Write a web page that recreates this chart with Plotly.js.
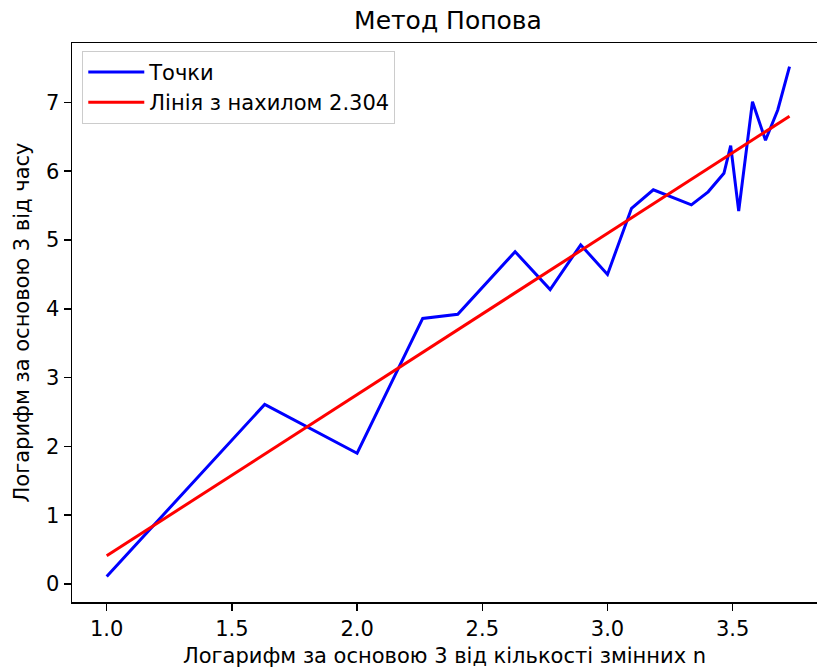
<!DOCTYPE html>
<html>
<head>
<meta charset="utf-8">
<script src="https://cdn.plot.ly/plotly-3.0.1.min.js"></script>
<style>html,body{margin:0;padding:0;background:#fff}#chart{width:817px;height:671px}</style>
</head>
<body>
<div id="chart"></div>
<script>
// log3(n) of the number of variables
var xLog = [1.000, 1.631, 2.000, 2.262, 2.402, 2.631, 2.771, 2.893, 3.000, 3.096,
            3.183, 3.335, 3.402, 3.465, 3.492, 3.524, 3.579, 3.631, 3.680, 3.727];
// log3 of time
var yLog = [0.11, 2.61, 1.90, 3.86, 3.92, 4.83, 4.28, 4.93, 4.50, 5.46,
            5.73, 5.51, 5.70, 5.97, 6.37, 5.42, 7.01, 6.45, 6.89, 7.52];
// fitted line endpoints
var fitX = [1.000, 3.727];
var fitY = [0.41, 6.80];
var seriesName = "Точки";
var fitName = "Лінія з нахилом 2.304";
var titleText = "Метод Попова";
var xTitle = "Логарифм за основою 3 від кількості змінних n";
var yTitle = "Логарифм за основою 3 від часу";

var font = "DejaVu Sans, sans-serif";
var fs = 21;
var traces = [
  {x: xLog, y: yLog, mode: "lines", name: seriesName, line: {color: "#0000ff", width: 3}},
  {x: fitX, y: fitY, mode: "lines", name: fitName, line: {color: "#ff0000", width: 3}}
];
var layout = {
  width: 817, height: 671,
  margin: {l: 72, r: 0, t: 43, b: 69, pad: 0},
  paper_bgcolor: "#fff", plot_bgcolor: "#fff",
  font: {family: font, size: fs, color: "#000"},
  title: {text: titleText, font: {family: font, size: 25, color: "#000"},
          xref: "container", x: 448/817, xanchor: "center",
          yref: "container", y: 1 - 20/671, yanchor: "middle"},
  xaxis: {range: [0.8614, 3.8367], tick0: 1, dtick: 0.5, tickformat: ".1f",
          showgrid: false, zeroline: false, showline: true, mirror: true,
          linecolor: "#000", linewidth: 1.5, ticks: "outside", ticklen: 7, tickwidth: 1.5,
          tickcolor: "#000", tickfont: {family: font, size: fs, color: "#000"},
          title: {text: xTitle, font: {family: font, size: fs, color: "#000"}, standoff: 8}},
  yaxis: {range: [-0.2616, 7.863], tick0: 0, dtick: 1,
          showgrid: false, zeroline: false, showline: true, mirror: false,
          linecolor: "#000", linewidth: 1.5, ticks: "outside", ticklen: 7, tickwidth: 1.5,
          tickcolor: "#000", tickfont: {family: font, size: fs, color: "#000"},
          title: {text: yTitle, font: {family: font, size: fs, color: "#000"}, standoff: 10}},
  showlegend: true,
  legend: {x: 0.0138, y: 0.986, xanchor: "left", yanchor: "top", itemwidth: 56,
           bgcolor: "rgba(255,255,255,0.8)", bordercolor: "#cccccc", borderwidth: 1,
           font: {family: font, size: fs, color: "#000"}, tracegroupgap: 0}
};
Plotly.newPlot("chart", traces, layout, {displayModeBar: false, staticPlot: true});
</script>
</body>
</html>
